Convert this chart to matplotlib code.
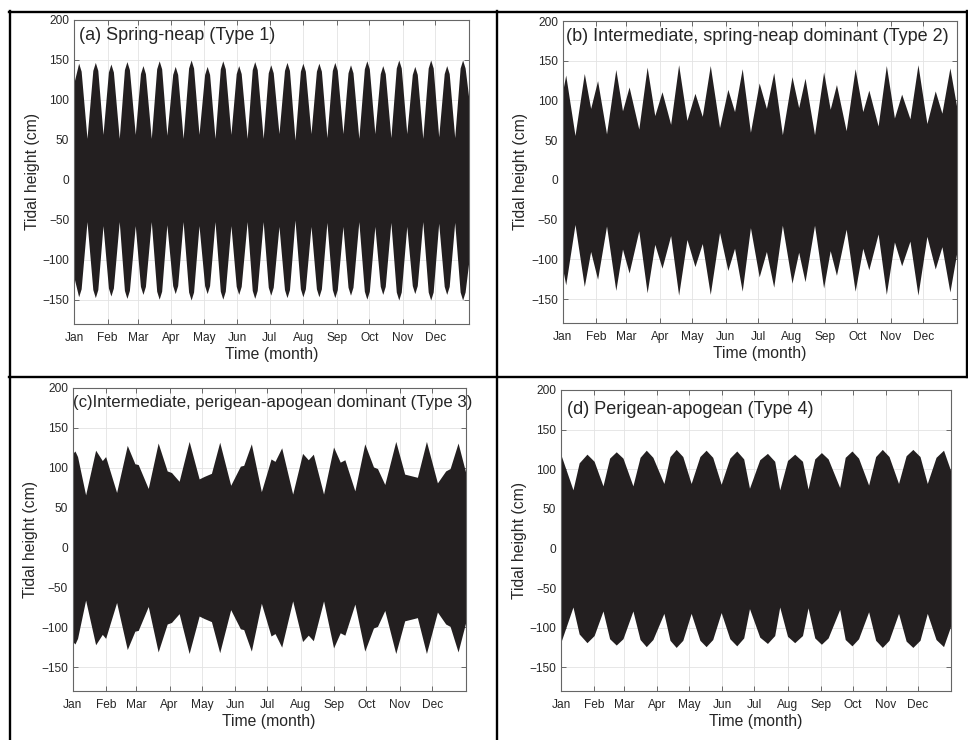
import numpy as np
import matplotlib
matplotlib.use('Agg')
import matplotlib.pyplot as plt
from matplotlib.lines import Line2D

plt.rcParams['font.family'] = ['Liberation Sans', 'DejaVu Sans']

W, H = 968, 740

months = ['Jan', 'Feb', 'Mar', 'Apr', 'May', 'Jun', 'Jul', 'Aug', 'Sep', 'Oct', 'Nov', 'Dec']
month_start = [0, 31, 59, 90, 120, 151, 181, 212, 243, 273, 304, 334]
yticks = [-150, -100, -50, 0, 50, 100, 150, 200]

# envelope of tidal height (cm): day of year, amplitude
a_day = [0, 4.3, 6.6, 12, 17.4, 19.7, 22, 26.8, 31.8, 34.1, 36.4, 41.8, 46.6, 48.9, 51.2, 56.6,
         61.4, 63.7, 66, 71.4, 76.4, 78.7, 81, 85.8, 91.2, 93.5, 95.8, 100.8, 105.9, 108.2, 110.5, 115.5,
         120.7, 123, 125.3, 130.3, 135.2, 137.5, 139.8, 145, 149.9, 152.2, 154.5, 160, 164.7, 167, 169.3, 174.8,
         179.5, 181.8, 184.1, 189.4, 194.5, 196.8, 199.1, 204.2, 209.2, 211.5, 213.8, 219, 224, 226.3, 228.6, 233.7,
         238.7, 241, 243.3, 248.5, 253.2, 255.5, 257.8, 263.2, 268.3, 270.6, 272.9, 278, 283, 285.3, 287.6, 292.8,
         297.8, 300.1, 302.4, 307.5, 312.6, 314.9, 317.2, 322.3, 327.3, 329.6, 331.9, 337, 342.1, 344.4, 346.7, 351.8,
         356.8, 359.1, 361.4, 365]
a_amp = [122, 146, 136, 52, 137, 147, 137, 57, 135, 145, 135, 52, 138, 148, 138, 57,
         133, 143, 133, 52, 139, 149, 139, 56, 132, 142, 132, 52, 140, 150, 140, 57,
         132, 142, 132, 52, 139, 149, 139, 57, 133, 143, 133, 52, 138, 148, 138, 52,
         134, 144, 134, 58, 137, 147, 137, 50, 136, 146, 136, 58, 136, 146, 136, 53,
         137, 147, 137, 58, 134, 144, 134, 52, 139, 149, 139, 58, 133, 143, 133, 53,
         140, 150, 140, 58, 132, 142, 132, 52, 140, 150, 140, 54, 133, 143, 133, 53,
         140, 150, 140, 100]

b_day = [0, 2.8, 11.4, 20, 25.9, 32.3, 40.6, 49.2, 55.4, 61.5, 70.5, 78.2, 85.3, 92, 100, 107.4,
         115.1, 122.5, 129.3, 136.7, 145.3, 153, 159.2, 166.3, 173.9, 182, 188.7, 195.5, 203.5, 212.4,
         218.6, 224.5, 233.3, 241.7, 247.8, 253.6, 262.6, 270.9, 278, 283.6, 292.2, 299.8, 307.3, 314,
         321.7, 329.1, 337.4, 345.1, 351.3, 358.7, 365]
b_amp = [112, 132, 56, 134, 90, 125, 58, 139, 87, 117, 64, 142, 81, 111, 70, 145,
         75, 109, 80, 144, 66, 114, 86, 140, 60, 122, 90, 135, 57, 130,
         91, 128, 57, 136, 89, 120, 62, 140, 86, 113, 68, 144, 78, 108,
         77, 145, 71, 112, 84, 141, 92]

c_day = [0, 2.1, 4.5, 12, 21.3, 27.5, 30.6, 40.8, 50.7, 57.8, 60.9, 70.2, 79.4, 87.8, 91.8, 98.9,
         108.2, 117.5, 122, 128.9, 136.6, 146.8, 155.8, 158.9, 166, 175.3, 184.3, 188, 194.2, 204.4,
         213.6, 218.9, 223.6, 233.1, 242.4, 248.6, 252.9, 262.2, 271.4, 279.5, 283.2, 290, 300.2,
         308.5, 320.3, 328.7, 338.9, 346.6, 350.7, 358.1, 365]
c_amp = [118, 121, 114, 66, 122, 109, 114, 69, 128, 105, 104, 74, 131, 96, 94, 83,
         133, 86, 89, 93, 132, 78, 102, 103, 130, 70, 111, 108, 125, 67,
         118, 110, 117, 67, 126, 107, 110, 71, 130, 101, 99, 79, 133,
         92, 88, 133, 81, 96, 99, 131, 95]

d_day = [0, 11.2, 17, 24.3, 31, 39.3, 45.5, 51.7, 58, 67.3, 74, 79.8, 86, 96.3, 102, 107.8,
         114, 121.8, 130, 135.8, 142, 149.9, 158, 164.5, 171, 176.4, 186, 193.2, 200, 204.7,
         212, 218.7, 226, 231.2, 237.5, 243.7, 250, 260.8, 266, 272.3, 278.5, 287.9, 294.5,
         300.7, 307, 315.9, 323, 329.3, 336, 342.8, 351, 358, 365]
d_amp = [118, 74, 108, 119, 110, 79, 114, 122, 114, 79, 115, 124, 115, 82, 116, 125,
         116, 82, 116, 124, 115, 81, 114, 123, 113, 76, 112, 120, 110, 74,
         111, 119, 110, 75, 113, 121, 113, 77, 115, 123, 114, 80, 116,
         125, 116, 82, 117, 125, 116, 82, 115, 124, 97]

titles = ['(a) Spring-neap (Type 1)',
          '(b) Intermediate, spring-neap dominant (Type 2)',
          '(c)Intermediate, perigean-apogean dominant (Type 3)',
          '(d) Perigean-apogean (Type 4)']

fig = plt.figure(figsize=(W / 100, H / 100), dpi=100)


def px_axes(l, t, r, b):
    return fig.add_axes([l / W, 1 - b / H, (r - l) / W, (b - t) / H])


def draw_panel(ax, day, amp, title, tx, ty, tsize=13):
    amp = np.array(amp)
    ax.fill_between(day, -amp, amp, color='#231f20', lw=0, zorder=2)
    ax.set_xlim(0, 365)
    ax.set_ylim(-180, 200)
    ax.set_xticks(month_start)
    ax.set_xticklabels(months)
    ax.set_yticks(yticks)
    ax.set_axisbelow(True)
    ax.grid(True, color='#e3e3e3', lw=0.6)
    ax.tick_params(direction='in', top=True, right=True, length=3.5, width=0.6,
                   color='#555555', labelcolor='#262626', labelsize=8.6)
    ax.tick_params(axis='x', pad=6)
    ax.tick_params(axis='y', pad=3.5)
    for s in ax.spines.values():
        s.set_color('#666666')
        s.set_linewidth(0.8)
        s.set_zorder(3)
    ax.set_xlabel('Time (month)', fontsize=11.3, color='#262626', labelpad=2)
    ax.set_ylabel('Tidal height (cm)', fontsize=11.3, color='#262626', labelpad=2)
    ax.text(tx, ty, title, fontsize=tsize, color='#262626', va='center', ha='left', zorder=4)


ax1 = px_axes(74, 20, 469, 324)
draw_panel(ax1, a_day, a_amp, titles[0], 4.5, 180)
ax2 = px_axes(562.7, 21, 956.7, 323)
draw_panel(ax2, b_day, b_amp, titles[1], 2.8, 181)
ax3 = px_axes(72.7, 388, 465.5, 691)
draw_panel(ax3, c_day, c_amp, titles[2], 0.5, 182, tsize=12.1)
ax4 = px_axes(561, 390, 951, 691)
draw_panel(ax4, d_day, d_amp, titles[3], 6, 176)

# table frame around the four panels
def frame_line(x0, y0, x1, y1):
    fig.add_artist(Line2D([x0 / W, x1 / W], [1 - y0 / H, 1 - y1 / H], color='black', lw=1.7))

frame_line(9, 11.5, 967, 11.5)
frame_line(9.5, 11, 9.5, 740)
frame_line(496.5, 11, 496.5, 740)
frame_line(9, 376.5, 967, 376.5)
frame_line(966.5, 11, 966.5, 376.5)

fig.savefig('out.png', dpi=100, facecolor='white')
